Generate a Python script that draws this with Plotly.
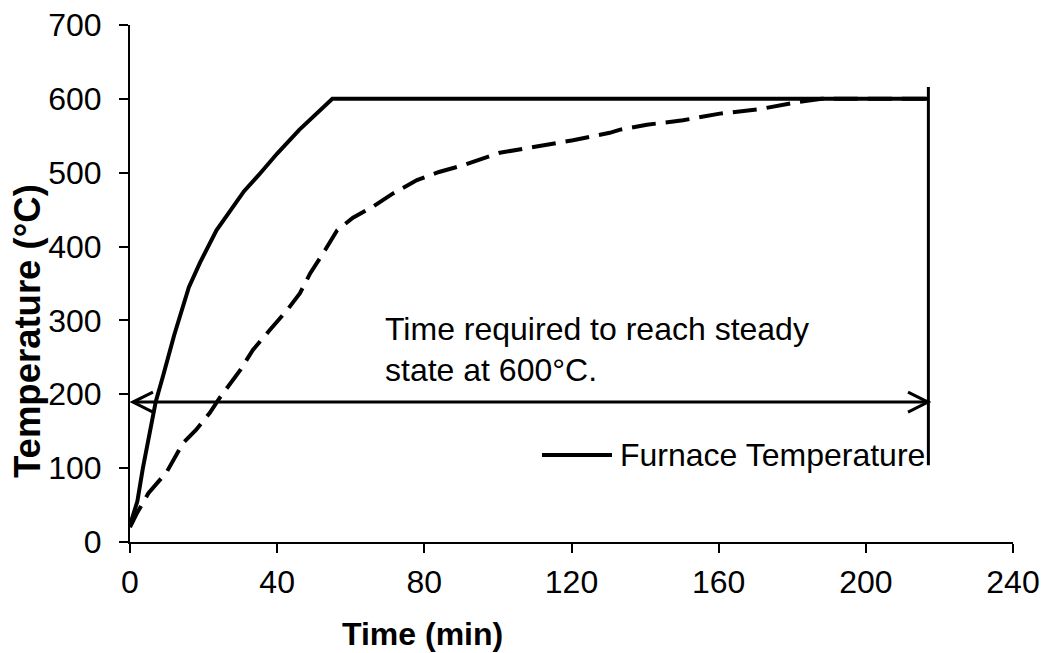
import plotly.graph_objects as go

# ---- data ----
furnace_time = [0, 2, 3.5, 5.5, 7, 9, 12, 16, 19, 23.5, 27, 31, 35, 40, 46, 51, 55, 217]
furnace_temp = [23, 55, 100, 150, 190, 225, 280, 345, 378, 422, 447, 475, 497, 526, 558, 582, 600, 600]

sample_time = [0, 2, 5, 10, 14.4, 18, 21.7, 24.5, 30, 33.4, 38, 42.7, 46.2, 49, 53, 56.3, 60.6,
               66, 71.5, 78, 84, 90.5, 100.5, 110.6, 120.4, 130.4, 133, 140.5, 150.3, 160.3,
               171, 182, 188, 217]
sample_temp = [20, 40, 66, 95, 134, 152, 175, 196, 233, 260, 287, 314, 337, 364, 395, 422, 439,
               454, 472, 490, 501, 510, 527, 535, 544, 554, 558, 565, 571, 580,
               586, 596, 600, 600]

x_ticks = [0, 40, 80, 120, 160, 200, 240]
y_ticks = [0, 100, 200, 300, 400, 500, 600, 700]

arrow_temp = 189.5
arrow_start = 0.8
arrow_end = 216.9
steady_time = 217
vline_low, vline_high = 104, 616

FONT = "Arial, Liberation Sans, sans-serif"
FS = 32

# plot area in pixels (for placing paper-referenced annotations)
PL, PR, PT, PB = 130, 1013, 25, 542


def px_to_paper(px, py):
    return (px - PL) / (PR - PL), (PB - py) / (PB - PT)


fig = go.Figure()
fig.add_trace(go.Scatter(x=furnace_time, y=furnace_temp, mode="lines",
                         name="Furnace Temperature",
                         line=dict(color="black", width=4), showlegend=False))
fig.add_trace(go.Scatter(x=sample_time, y=sample_temp, mode="lines",
                         name="Sample", line=dict(color="black", width=4, dash="24px,10px"),
                         showlegend=False))

lx0, ly = px_to_paper(542, 455)
lx1, _ = px_to_paper(612, 455)
ltx, _ = px_to_paper(618, 455)
xtx, xty = px_to_paper(422, 634)
ytx, yty = px_to_paper(27, 331)

shapes = [
    dict(type="line", xref="x", yref="y", x0=arrow_start, x1=arrow_end,
         y0=arrow_temp, y1=arrow_temp, line=dict(color="black", width=3)),
    dict(type="path", xref="x", yref="y", xsizemode="pixel", ysizemode="pixel",
         xanchor=arrow_start, yanchor=arrow_temp, path="M20,10 L0,0 L20,-10",
         line=dict(color="black", width=3)),
    dict(type="path", xref="x", yref="y", xsizemode="pixel", ysizemode="pixel",
         xanchor=arrow_end, yanchor=arrow_temp, path="M-20,10 L0,0 L-20,-10",
         line=dict(color="black", width=3)),
    dict(type="line", xref="x", yref="y", x0=steady_time, x1=steady_time,
         y0=vline_low, y1=vline_high, line=dict(color="black", width=3)),
    dict(type="line", xref="paper", yref="paper", x0=lx0, x1=lx1,
         y0=ly, y1=ly, line=dict(color="black", width=4)),
]

annotations = [
    dict(text="Time required to reach steady", x=68.8, y=289, xref="x", yref="y",
         xanchor="left", yanchor="middle", showarrow=False,
         font=dict(family=FONT, size=FS, color="black")),
    dict(text="state at 600°C.", x=68.8, y=233, xref="x", yref="y",
         xanchor="left", yanchor="middle", showarrow=False,
         font=dict(family=FONT, size=FS, color="black")),
    dict(text="Furnace Temperature", x=ltx, y=ly, xref="paper", yref="paper",
         xanchor="left", yanchor="middle", showarrow=False,
         font=dict(family=FONT, size=FS, color="black")),
    dict(text="<b>Time (min)</b>", x=xtx, y=xty, xref="paper", yref="paper",
         xanchor="center", yanchor="middle", showarrow=False,
         font=dict(family=FONT, size=FS, color="black")),
    dict(text="<b>Temperature (°C)</b>", x=ytx, y=yty, xref="paper", yref="paper",
         xanchor="center", yanchor="middle", showarrow=False, textangle=-90,
         font=dict(family=FONT, size=36.5, color="black")),
]

fig.update_layout(
    width=1043, height=653,
    margin=dict(l=PL, r=1043 - PR, t=PT, b=653 - PB, autoexpand=False),
    paper_bgcolor="white", plot_bgcolor="white",
    font=dict(family=FONT, size=FS, color="black"),
    shapes=shapes, annotations=annotations, showlegend=False,
)
fig.update_xaxes(range=[0, 240], tickvals=x_ticks, ticktext=[str(v) for v in x_ticks],
                 showline=True, linecolor="black", linewidth=2, showgrid=False, zeroline=False,
                 ticks="outside", ticklen=9, tickwidth=2, tickcolor="black",
                 ticklabelstandoff=2, automargin=False)
fig.update_yaxes(range=[0, 700], tickvals=y_ticks, ticktext=[str(v) for v in y_ticks],
                 showline=True, linecolor="black", linewidth=2, showgrid=False, zeroline=False,
                 ticks="outside", ticklen=9, tickwidth=2, tickcolor="black",
                 ticklabelstandoff=11, automargin=False)

fig.write_html("out.html")
